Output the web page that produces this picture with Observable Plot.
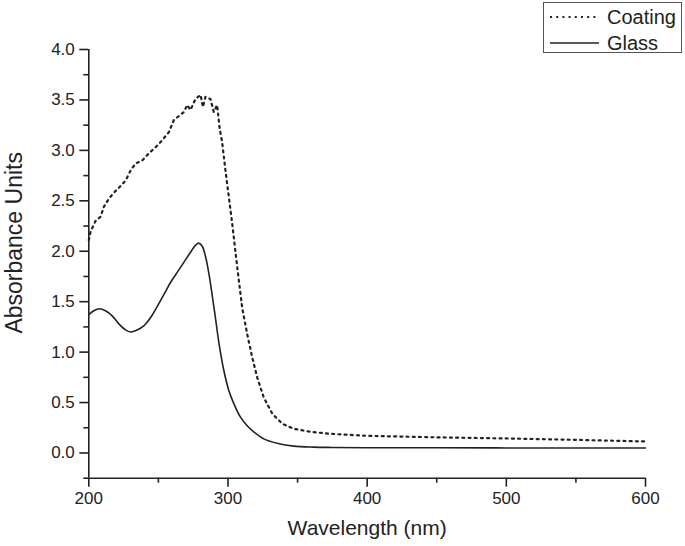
<!DOCTYPE html>
<html>
<head>
<meta charset="utf-8">
<script src="https://cdn.jsdelivr.net/npm/d3@7"></script>
<script src="https://cdn.jsdelivr.net/npm/@observablehq/plot@0.6"></script>
<style>
  html, body { margin: 0; padding: 0; background: #fff; }
  #wrap { position: relative; width: 685px; height: 546px; font-family: "Liberation Sans", Arial, sans-serif; }
  #legend { position: absolute; left: 543px; top: 2px; width: 139px; height: 51px; border: 1.2px solid #555; box-sizing: border-box; background: #fff; color: #222; font-size: 20px; }
  .row { position: absolute; left: 0; height: 26px; display: flex; align-items: center; }
  .row svg { margin-left: 6px; margin-right: 8px; }
</style>
</head>
<body>
<div id="wrap">
  <div id="chart"></div>
  <div id="legend"></div>
</div>
<script>
// Series: Glass (solid)
const glassWl  = [200, 203.6, 207.7, 212, 216.8, 221.6, 226.4, 230, 234.8, 239.5, 244.3, 249.1, 253.9, 258.7, 263.5, 268.3, 273.1, 276.7, 279, 281.5, 284, 286.5, 288.7, 291, 293.4, 297, 300.6, 304.2, 309, 313.8, 318.5, 325.7, 335.3, 347.3, 361.7, 375, 400, 450, 500, 550, 600];
const glassAbs = [1.37, 1.41, 1.43, 1.41, 1.36, 1.28, 1.22, 1.20, 1.22, 1.26, 1.34, 1.45, 1.57, 1.69, 1.79, 1.89, 1.99, 2.06, 2.08, 2.05, 1.94, 1.76, 1.56, 1.34, 1.10, 0.82, 0.62, 0.49, 0.355, 0.27, 0.21, 0.14, 0.097, 0.068, 0.058, 0.055, 0.052, 0.052, 0.05, 0.05, 0.05];
// Series: Coating (dotted)
const coatWl  = [200, 201.2, 204.8, 208.4, 210.8, 214.4, 218, 221.6, 226.4, 230, 233.6, 238.4, 243.1, 247.9, 252.7, 257.5, 261.1, 264.7, 268.3, 270.7, 273, 276.7, 280.3, 282, 283.8, 287.4, 289.8, 292.2, 294, 295.8, 298.2, 300.6, 303, 305.4, 307.8, 310.2, 313.8, 317.4, 321, 325.7, 331.8, 339, 347.3, 359.3, 373.6, 400, 450, 500, 550, 600];
const coatAbs = [2.11, 2.19, 2.30, 2.34, 2.44, 2.52, 2.58, 2.63, 2.70, 2.80, 2.87, 2.90, 2.97, 3.03, 3.10, 3.18, 3.30, 3.34, 3.38, 3.45, 3.40, 3.51, 3.55, 3.43, 3.53, 3.51, 3.38, 3.45, 3.22, 3.08, 2.80, 2.54, 2.28, 1.99, 1.71, 1.44, 1.18, 0.95, 0.75, 0.55, 0.39, 0.29, 0.24, 0.21, 0.19, 0.17, 0.155, 0.144, 0.13, 0.114];

const seriesNames = ["Coating", "Glass"];
const xMajor = [200, 300, 400, 500, 600];
const xMinor = [250, 350, 450, 550];
const yMajor = [0, 0.5, 1, 1.5, 2, 2.5, 3, 3.5, 4];
const yMinor = [-0.25, 0.25, 0.75, 1.25, 1.75, 2.25, 2.75, 3.25, 3.75];
const xLabel = "Wavelength (nm)";
const yLabel = "Absorbance Units";

const glass = glassWl.map((x, i) => ({x, y: glassAbs[i]}));
const coat = coatWl.map((x, i) => ({x, y: coatAbs[i]}));

const ink = "#222";
const dotted = "2,4.2";
const chart = Plot.plot({
  width: 685,
  height: 546,
  marginLeft: 88.3,
  marginRight: 40,
  marginTop: 49,
  marginBottom: 68.3,
  style: {fontFamily: "'Liberation Sans', Arial, sans-serif", fontSize: "17px", color: ink, background: "#fff"},
  x: {domain: [200, 600]},
  y: {domain: [-0.25, 4.0]},
  marks: [
    Plot.axisX(xMajor, {tickSize: 9, tickPadding: 5, strokeWidth: 1.6, stroke: ink, fill: ink, label: null, fontSize: 17, tickFormat: d => d}),
    Plot.axisX(xMinor, {tickSize: 5, strokeWidth: 1.6, stroke: ink, label: null, tickFormat: () => ""}),
    Plot.axisY(yMajor, {tickSize: 9, tickPadding: 5, strokeWidth: 1.6, stroke: ink, fill: ink, label: null, fontSize: 17, tickFormat: d3.format(".1f")}),
    Plot.axisY(yMinor, {tickSize: 5, strokeWidth: 1.6, stroke: ink, label: null, tickFormat: () => ""}),
    Plot.ruleX([200], {stroke: ink, strokeWidth: 1.6}),
    Plot.ruleY([-0.25], {stroke: ink, strokeWidth: 1.6}),
    Plot.line(glass, {x: "x", y: "y", stroke: ink, strokeWidth: 1.6, curve: "catmull-rom"}),
    Plot.line(coat, {x: "x", y: "y", stroke: ink, strokeWidth: 2.2, strokeDasharray: dotted, curve: "linear"}),
    Plot.text([xLabel], {frameAnchor: "bottom", dy: 50, text: d => d, fontSize: 21, fill: ink, lineAnchor: "middle"}),
    Plot.text([yLabel], {frameAnchor: "left", dx: -74, dy: -21, rotate: -90, text: d => d, fontSize: 23, fill: ink, lineAnchor: "middle", textAnchor: "middle"})
  ]
});
document.getElementById("chart").appendChild(chart);

// Legend
const legend = document.getElementById("legend");
const dashes = {Coating: dotted, Glass: null};
seriesNames.forEach((name, i) => {
  const row = document.createElement("div");
  row.className = "row";
  row.style.top = (i === 0 ? 1 : 27) + "px";
  const s = d3.create("svg").attr("width", 49).attr("height", 10);
  s.append("line").attr("x1", 0).attr("x2", 49).attr("y1", 5).attr("y2", 5)
    .attr("stroke", ink).attr("stroke-width", name === "Coating" ? 2.2 : 1.6)
    .attr("stroke-dasharray", dashes[name]);
  row.appendChild(s.node());
  const t = document.createElement("span");
  t.textContent = name;
  row.appendChild(t);
  legend.appendChild(row);
});
</script>
</body>
</html>
